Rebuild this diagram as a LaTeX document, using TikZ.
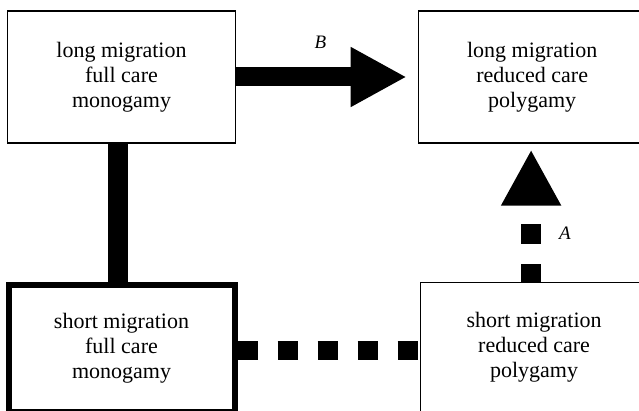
\documentclass[tikz,border=0pt]{standalone}
\usepackage{fontspec}
\setmainfont{Liberation Serif}
\newfontfamily\boxfont{Liberation Serif}
\usetikzlibrary{arrows.meta, positioning}

\begin{document}
\begin{tikzpicture}[x=1pt,y=-1pt,>={Triangle[length=56pt,width=56pt]},
                every node/.style={align=center, font=\boxfont\fontsize{22}{25}\selectfont},
                box/.style={draw, rectangle, minimum width=228pt, minimum height=132pt, line width=1.2pt, inner sep=0pt},
                thickbox/.style={box, line width=6pt, minimum width=226pt, minimum height=127pt},
                solidlink/.style={line width=20pt},
                dotlink/.style={line width=19pt, dash pattern=on 20pt off 20pt},
                lbl/.style={inner sep=0pt, align=left, font=\boxfont\fontsize{19}{19}\selectfont\itshape}
                ]
                \useasboundingbox (0,0) rectangle (639,411);
                \clip (0,0) rectangle (639,411);
                \node[box] (lmfc) at (121.5,77) {long migration\\full care\\monogamy};
                \node[box, right=181.5pt of lmfc] (lmrc) {long migration\\reduced care\\polygamy};
                \node[thickbox, below=138pt of lmfc] (smfc) {short migration\\full care\\monogamy};
                \node[box, minimum height=131pt, right=182pt of smfc.north east, anchor=north west] (smrc) {short migration\\reduced care\\polygamy};
                \draw[solidlink] ([xshift=-3.5pt]lmfc.south) -- ([xshift=-3.5pt]lmfc.south |- smfc.north);
                \draw[->, solidlink, line width=19pt, shorten >=11pt] (lmfc) -- node[lbl, pos=0.465, above=19pt] {B} (lmrc);
                \draw[dotlink] ([yshift=-2pt]smfc.east) -- ([yshift=-2pt]smfc.east -| smrc.west);
                \draw[->, dotlink, line width=20pt, dash phase=2pt, shorten >=6pt] ([xshift=-3pt]smrc.north) -- node[lbl, pos=0.35, right=18pt] {A} ([xshift=-3pt]smrc.north |- lmrc.south);
        \end{tikzpicture}
\end{document}
